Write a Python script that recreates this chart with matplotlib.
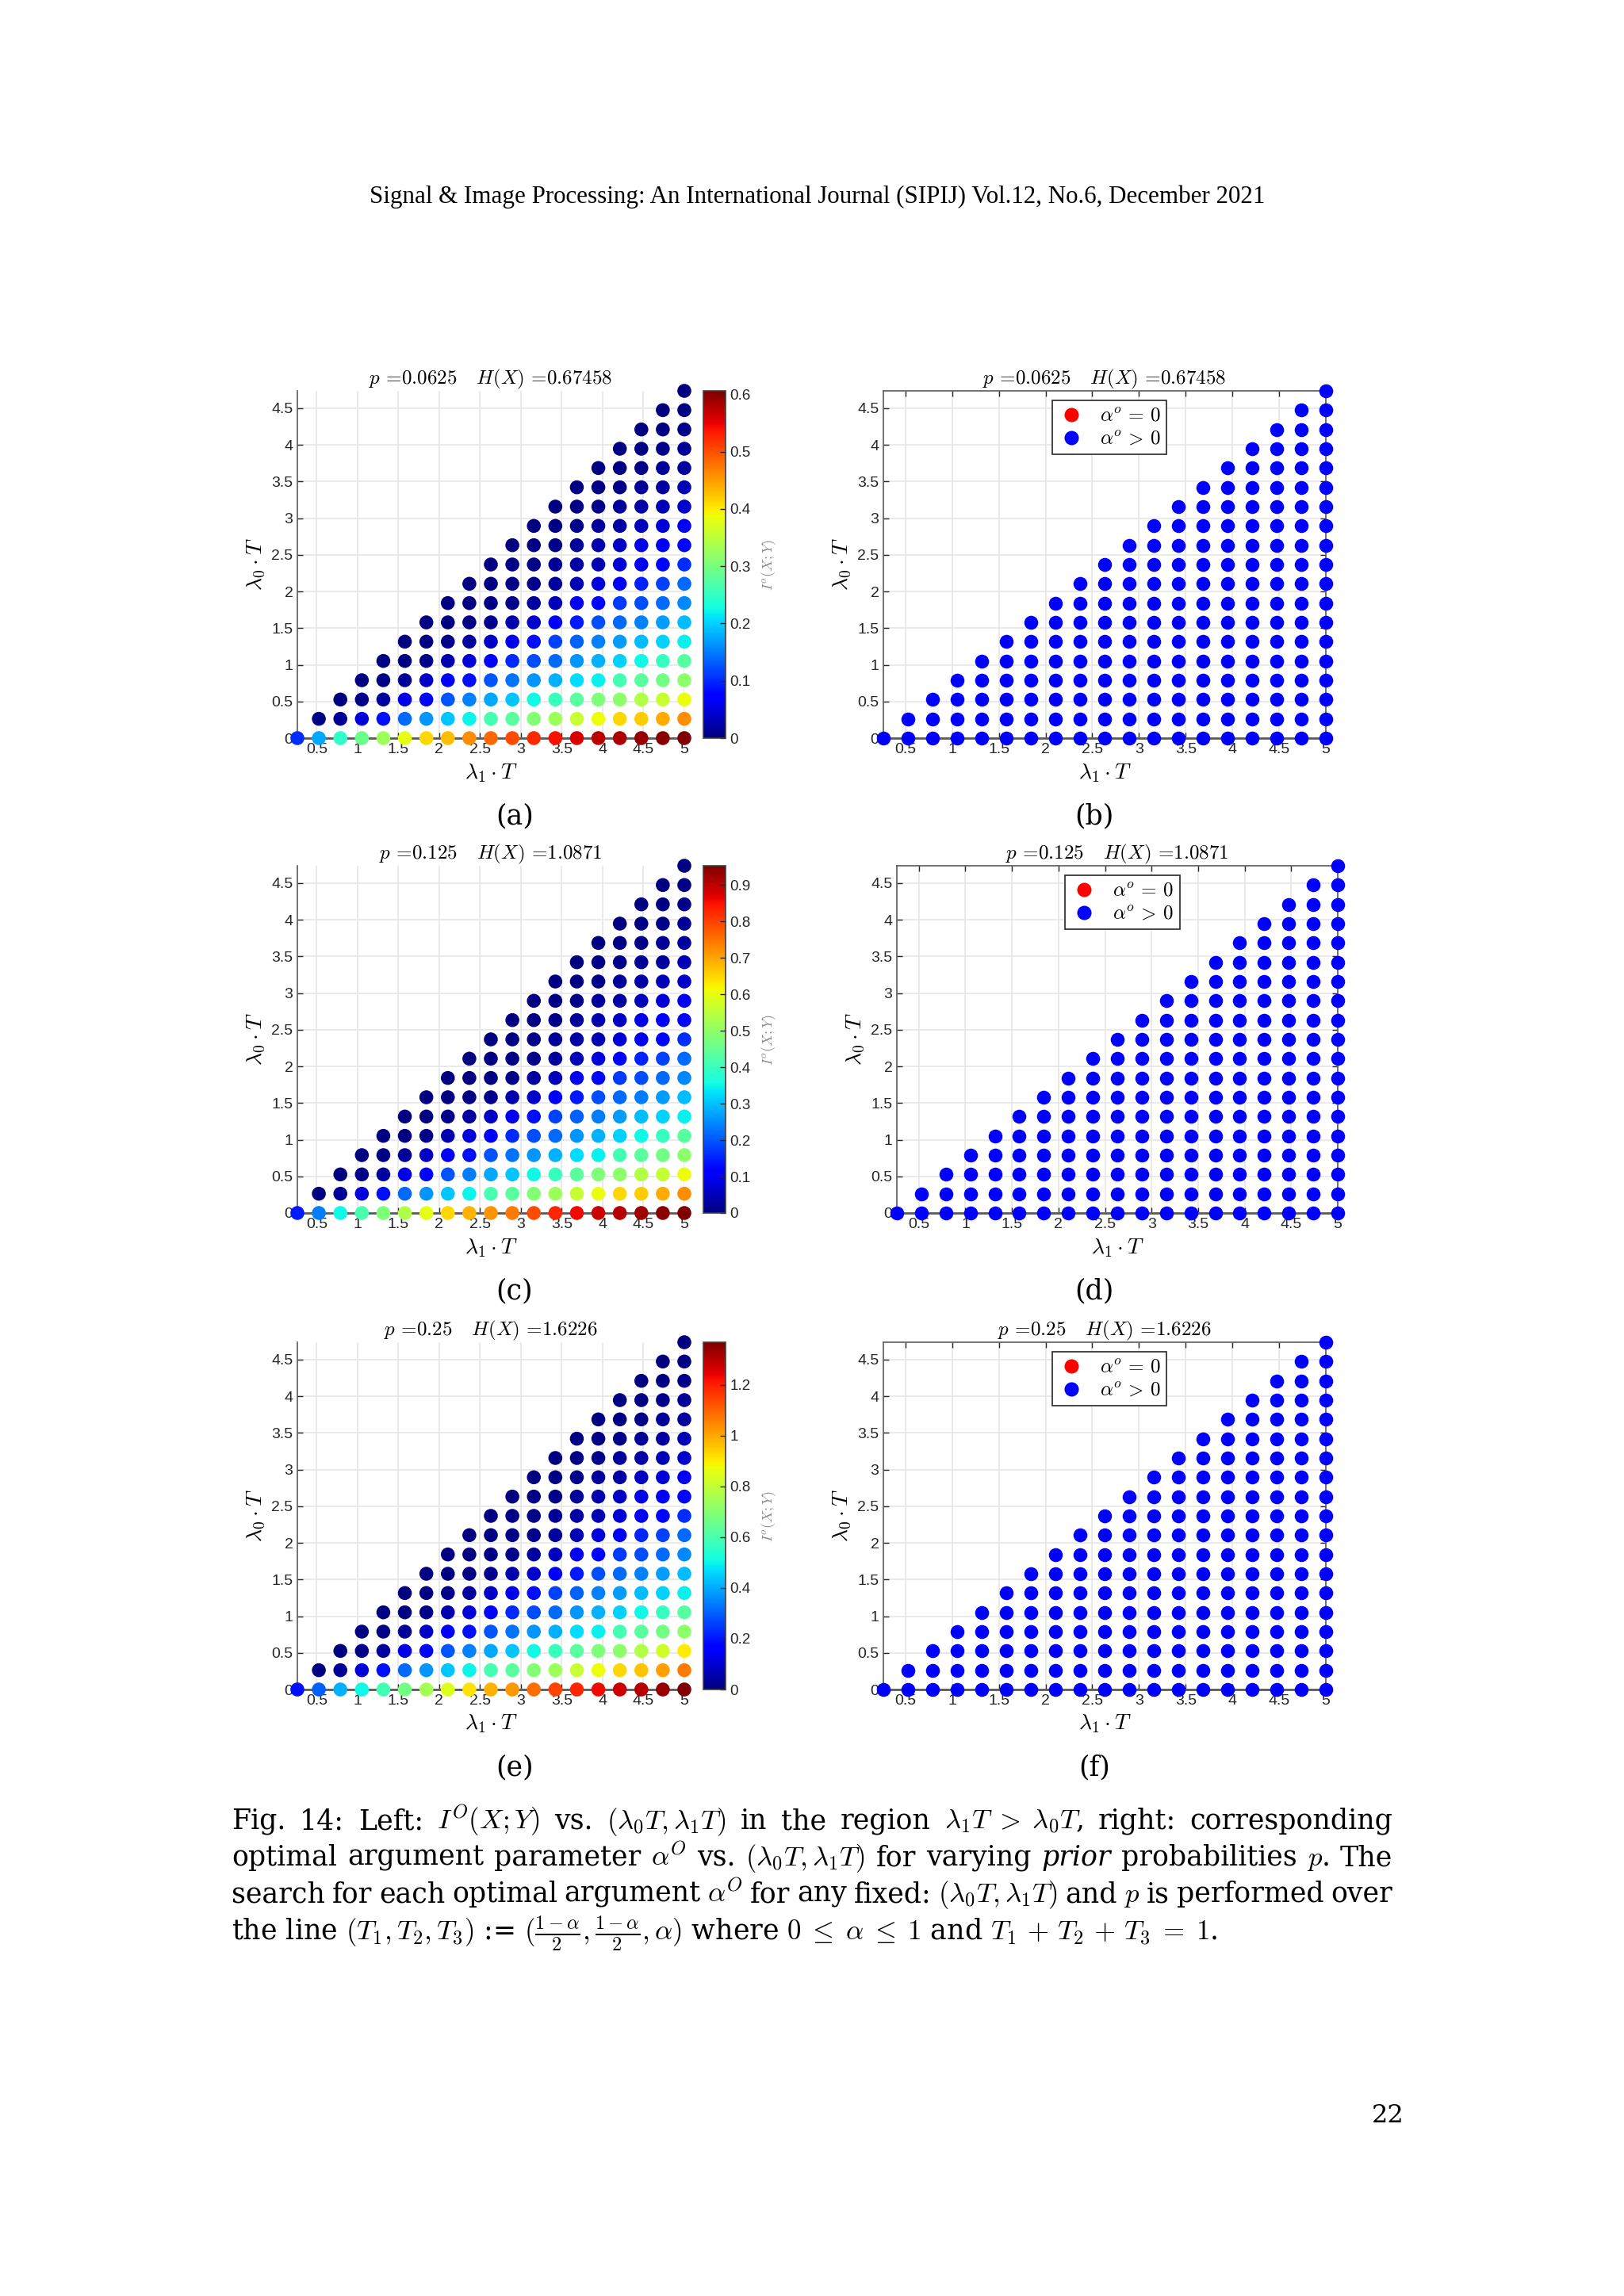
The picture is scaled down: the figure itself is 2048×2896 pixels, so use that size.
import matplotlib
matplotlib.use("Agg")
import matplotlib.pyplot as plt
from matplotlib.lines import Line2D
import numpy as np

plt.rcParams['mathtext.fontset'] = 'cm'
plt.rcParams['axes.unicode_minus'] = False

# grid of lambda*T values (both axes use the same grid, points only where lambda1 > lambda0)
lam = [0, 0.2632, 0.5263, 0.7895, 1.0526, 1.3158, 1.5789, 1.8421, 2.1053, 2.3684,
       2.6316, 2.8947, 3.1579, 3.4211, 3.6842, 3.9474, 4.2105, 4.4737, 4.7368, 5.0]

# I^o(X;Y), row j is lambda0 = lam[j], values for lambda1 = lam[j+1], lam[j+2], ...
I_a = [
    [0.103, 0.176, 0.248, 0.291, 0.327, 0.379, 0.412, 0.430, 0.461, 0.485, 0.503, 0.524, 0.542, 0.558, 0.574, 0.582, 0.593, 0.600, 0.606],
    [0.003, 0.013, 0.048, 0.085, 0.139, 0.164, 0.194, 0.221, 0.264, 0.279, 0.309, 0.327, 0.358, 0.385, 0.412, 0.421, 0.442, 0.461],
    [0.0, 0.006, 0.018, 0.055, 0.079, 0.127, 0.152, 0.176, 0.194, 0.224, 0.255, 0.279, 0.303, 0.315, 0.342, 0.358, 0.385],
    [0.0, 0.003, 0.012, 0.036, 0.067, 0.085, 0.127, 0.145, 0.164, 0.182, 0.206, 0.218, 0.261, 0.279, 0.297, 0.315],
    [0.0, 0.0, 0.006, 0.024, 0.048, 0.076, 0.100, 0.121, 0.139, 0.164, 0.182, 0.200, 0.224, 0.251, 0.276],
    [0.0, 0.0, 0.006, 0.018, 0.036, 0.061, 0.085, 0.115, 0.133, 0.152, 0.170, 0.188, 0.200, 0.218],
    [0.0, 0.0, 0.003, 0.009, 0.024, 0.042, 0.067, 0.091, 0.121, 0.139, 0.152, 0.170, 0.188],
    [0.0, 0.0, 0.003, 0.006, 0.018, 0.033, 0.061, 0.079, 0.109, 0.121, 0.139, 0.158],
    [0.0, 0.0, 0.003, 0.006, 0.015, 0.030, 0.048, 0.073, 0.097, 0.115, 0.139],
    [0.0, 0.003, 0.006, 0.012, 0.021, 0.027, 0.045, 0.061, 0.079, 0.103],
    [0.0, 0.003, 0.006, 0.015, 0.024, 0.036, 0.055, 0.067, 0.079],
    [0.0, 0.003, 0.006, 0.015, 0.021, 0.033, 0.045, 0.061],
    [0.0, 0.003, 0.006, 0.015, 0.021, 0.030, 0.042],
    [0.0, 0.003, 0.006, 0.012, 0.018, 0.030],
    [0.0, 0.003, 0.006, 0.012, 0.018],
    [0.0, 0.003, 0.006, 0.012],
    [0.0, 0.003, 0.006],
    [0.0, 0.003],
    [0.0],
]

I_c = [
    [0.143, 0.238, 0.353, 0.419, 0.477, 0.534, 0.596, 0.648, 0.686, 0.715, 0.743, 0.791, 0.829, 0.858, 0.886, 0.905, 0.924, 0.943, 0.953],
    [0.003, 0.021, 0.076, 0.133, 0.219, 0.257, 0.305, 0.348, 0.415, 0.438, 0.486, 0.515, 0.562, 0.605, 0.648, 0.662, 0.696, 0.724],
    [0.0, 0.010, 0.029, 0.086, 0.124, 0.200, 0.238, 0.276, 0.305, 0.353, 0.400, 0.438, 0.477, 0.496, 0.538, 0.562, 0.605],
    [0.0, 0.005, 0.019, 0.057, 0.105, 0.133, 0.200, 0.229, 0.257, 0.286, 0.324, 0.343, 0.410, 0.438, 0.467, 0.496],
    [0.0, 0.0, 0.010, 0.038, 0.076, 0.119, 0.157, 0.191, 0.219, 0.257, 0.286, 0.314, 0.353, 0.395, 0.434],
    [0.0, 0.0, 0.010, 0.029, 0.057, 0.095, 0.133, 0.181, 0.210, 0.238, 0.267, 0.295, 0.314, 0.343],
    [0.0, 0.0, 0.005, 0.014, 0.038, 0.067, 0.105, 0.143, 0.191, 0.219, 0.238, 0.267, 0.295],
    [0.0, 0.0, 0.005, 0.010, 0.029, 0.052, 0.095, 0.124, 0.172, 0.191, 0.219, 0.248],
    [0.0, 0.0, 0.005, 0.010, 0.024, 0.048, 0.076, 0.114, 0.152, 0.181, 0.219],
    [0.0, 0.005, 0.010, 0.019, 0.033, 0.043, 0.071, 0.095, 0.124, 0.162],
    [0.0, 0.005, 0.010, 0.024, 0.038, 0.057, 0.086, 0.105, 0.124],
    [0.0, 0.005, 0.010, 0.024, 0.033, 0.052, 0.071, 0.095],
    [0.0, 0.005, 0.010, 0.024, 0.033, 0.048, 0.067],
    [0.0, 0.005, 0.010, 0.019, 0.029, 0.048],
    [0.0, 0.005, 0.010, 0.019, 0.029],
    [0.0, 0.005, 0.010, 0.019],
    [0.0, 0.005, 0.010],
    [0.0, 0.005],
    [0.0],
]

I_e = [
    [0.191, 0.301, 0.410, 0.506, 0.588, 0.670, 0.752, 0.848, 0.916, 0.984, 1.025, 1.080, 1.148, 1.189, 1.230, 1.271, 1.299, 1.340, 1.367],
    [0.004, 0.030, 0.109, 0.191, 0.314, 0.369, 0.437, 0.499, 0.595, 0.629, 0.697, 0.738, 0.807, 0.868, 0.930, 0.957, 1.012, 1.066],
    [0.0, 0.014, 0.041, 0.123, 0.178, 0.287, 0.342, 0.396, 0.437, 0.506, 0.574, 0.629, 0.684, 0.711, 0.772, 0.820, 0.902],
    [0.0, 0.007, 0.027, 0.082, 0.150, 0.191, 0.287, 0.328, 0.369, 0.410, 0.465, 0.492, 0.588, 0.629, 0.670, 0.711],
    [0.0, 0.0, 0.014, 0.055, 0.109, 0.171, 0.226, 0.273, 0.314, 0.369, 0.410, 0.451, 0.506, 0.567, 0.622],
    [0.0, 0.0, 0.014, 0.041, 0.082, 0.137, 0.191, 0.260, 0.301, 0.342, 0.383, 0.424, 0.451, 0.492],
    [0.0, 0.0, 0.007, 0.021, 0.055, 0.096, 0.150, 0.205, 0.273, 0.314, 0.342, 0.383, 0.424],
    [0.0, 0.0, 0.007, 0.014, 0.041, 0.075, 0.137, 0.178, 0.246, 0.273, 0.314, 0.355],
    [0.0, 0.0, 0.007, 0.014, 0.034, 0.068, 0.109, 0.164, 0.219, 0.260, 0.314],
    [0.0, 0.007, 0.014, 0.027, 0.048, 0.062, 0.103, 0.137, 0.178, 0.232],
    [0.0, 0.007, 0.014, 0.034, 0.055, 0.082, 0.123, 0.150, 0.178],
    [0.0, 0.007, 0.014, 0.034, 0.048, 0.075, 0.103, 0.137],
    [0.0, 0.007, 0.014, 0.034, 0.048, 0.068, 0.096],
    [0.0, 0.007, 0.014, 0.027, 0.041, 0.068],
    [0.0, 0.007, 0.014, 0.027, 0.041],
    [0.0, 0.007, 0.014, 0.027],
    [0.0, 0.007, 0.014],
    [0.0, 0.007],
    [0.0],
]

titles = [r'$p$ =0.0625   $H(X)$ =0.67458',
          r'$p$ =0.125   $H(X)$ =1.0871',
          r'$p$ =0.25   $H(X)$ =1.6226']
cbar_ticks = [[0, 0.1, 0.2, 0.3, 0.4, 0.5, 0.6],
              [0, 0.1, 0.2, 0.3, 0.4, 0.5, 0.6, 0.7, 0.8, 0.9],
              [0, 0.2, 0.4, 0.6, 0.8, 1, 1.2]]
# optimal alpha: every point of the three right panels has alpha^o > 0
alpha_zero = [[], [], []]
sub_left = ['(a)', '(c)', '(e)']
sub_right = ['(b)', '(d)', '(f)']

W, H = 2048, 2896
fig = plt.figure(figsize=(W / 200, H / 200), dpi=200)

xt = [0.5, 1, 1.5, 2, 2.5, 3, 3.5, 4, 4.5, 5]
yt = [0, 0.5, 1, 1.5, 2, 2.5, 3, 3.5, 4, 4.5]
tick_font = dict(family='Liberation Sans', size=7)
dark = '#262626'


def points(rows):
    xs, ys, vs = [], [], []
    for j, row in enumerate(rows):
        for i, v in enumerate(row):
            xs.append(lam[j + 1 + i])
            ys.append(lam[j])
            vs.append(v)
    return np.array(xs), np.array(ys), np.array(vs)


def style_axes(ax, box):
    ax.set_xlim(lam[1], lam[-1])
    ax.set_ylim(lam[0], lam[-2])
    ax.set_xticks(xt)
    ax.set_yticks(yt)
    ax.set_xticklabels(['%g' % t for t in xt], fontdict=tick_font)
    ax.set_yticklabels(['%g' % t for t in yt], fontdict=tick_font)
    ax.tick_params(direction='in', length=2.5, width=0.5, colors=dark, pad=2,
                   top=box, right=box)
    ax.grid(True, color='#e6e6e6', linewidth=0.6)
    ax.set_axisbelow(True)
    for s in ['left', 'bottom', 'top', 'right']:
        ax.spines[s].set_color('#5a5a5a')
        ax.spines[s].set_linewidth(0.6)
    ax.spines['bottom'].set_linewidth(1.0)
    if not box:
        ax.spines['top'].set_visible(False)
        ax.spines['right'].set_visible(False)
    ax.set_xlabel(r'$\lambda_1\cdot T$', fontsize=10, labelpad=2.5)
    ax.set_ylabel(r'$\lambda_0\cdot T$', fontsize=10, labelpad=2)


data = [I_a, I_c, I_e]
ax_bottoms = [1 - 931 / H, 1 - 1530 / H, 1 - 2131 / H]
ax_h = 438 / H
right_left = [1114 / W, 1131 / W, 1114 / W]
right_w = [558 / W, 556 / W, 558 / W]
sub_y = [1 - 1029 / H, 1 - 1628 / H, 1 - 2229 / H]

for r in range(3):
    xs, ys, vs = points(data[r])
    # left: mutual information
    ax = fig.add_axes([375 / W, ax_bottoms[r], 488 / W, ax_h])
    sc = ax.scatter(xs, ys, c=vs, cmap='jet', vmin=0, vmax=vs.max(), s=40,
                    linewidths=0, clip_on=False, zorder=3)
    style_axes(ax, False)
    ax.set_title(titles[r], fontsize=9, family='cmr10', pad=3)
    cax = fig.add_axes([887 / W, ax_bottoms[r], 28 / W, ax_h])
    cb = fig.colorbar(sc, cax=cax)
    cb.set_ticks(cbar_ticks[r])
    cb.set_ticklabels(['%g' % t for t in cbar_ticks[r]])
    cb.ax.tick_params(direction='in', length=2.5, width=0.5, colors=dark,
                      labelsize=6.8, pad=2)
    for lab in cb.ax.get_yticklabels():
        lab.set_family('Liberation Sans')
    cb.outline.set_linewidth(0.6)
    cb.outline.set_edgecolor('#404040')
    cb.set_label(r'$I^o(X;Y)$', rotation=90, color='#8c8c8c', fontsize=6.5,
                 labelpad=4)

    # right: optimal alpha
    ax2 = fig.add_axes([right_left[r], ax_bottoms[r], right_w[r], ax_h])
    zero = np.zeros(len(xs), dtype=bool)
    for (zx, zy) in alpha_zero[r]:
        zero |= (np.isclose(xs, zx) & np.isclose(ys, zy))
    ax2.scatter(xs[~zero], ys[~zero], color='#0000ff', s=40, linewidths=0,
                clip_on=False, zorder=3)
    ax2.scatter(xs[zero], ys[zero], color='#ff0000', s=40, linewidths=0,
                clip_on=False, zorder=3)
    style_axes(ax2, True)
    ax2.set_title(titles[r], fontsize=9, family='cmr10', pad=3)
    handles = [Line2D([], [], ls='', marker='o', ms=6.5, mfc='#ff0000', mec='none'),
               Line2D([], [], ls='', marker='o', ms=6.5, mfc='#0000ff', mec='none')]
    leg = ax2.legend(handles, [r'$\alpha^o\,=\,0$', r'$\alpha^o\,>\,0$'], loc='upper left',
                     bbox_to_anchor=(0.382, 0.973), borderaxespad=0, fontsize=9,
                     fancybox=False, framealpha=1, edgecolor='#262626',
                     handletextpad=0.8, borderpad=0.3, labelspacing=0.2,
                     handlelength=1.3)
    leg.get_frame().set_linewidth(0.6)

    fig.text(649 / W, sub_y[r], sub_left[r], fontsize=12.5, family='DejaVu Serif',
             ha='center', va='center')
    fig.text(1380 / W, sub_y[r], sub_right[r], fontsize=12.5, family='DejaVu Serif',
             ha='center', va='center')

# page header and number
fig.text(1031 / W, 1 - 256 / H,
         'Signal & Image Processing: An International Journal (SIPIJ) Vol.12, No.6, December 2021',
         fontsize=11.15, family='Liberation Serif', ha='center', va='baseline')
fig.text(1750 / W, 1 - 2677 / H, '22', fontsize=11.5, family='DejaVu Serif',
         ha='center', va='baseline')

# caption, justified line by line
cap_size = 12.5
cap_lines = [
    ['Fig.', '14:', 'Left:', r'$I^O(X;Y)$', 'vs.', r'$(\lambda_0T,\lambda_1T)$', 'in', 'the',
     'region', r'$\lambda_1T\;>\;\lambda_0T$,', 'right:', 'corresponding'],
    ['optimal', 'argument', 'parameter', r'$\alpha^O$', 'vs.', r'$(\lambda_0T,\lambda_1T)$',
     'for', 'varying', '*prior', 'probabilities', r'$p$.', 'The'],
    ['search', 'for', 'each', 'optimal', 'argument', r'$\alpha^O$', 'for', 'any', 'fixed:',
     r'$(\lambda_0T,\lambda_1T)$', 'and', r'$p$', 'is', 'performed', 'over'],
]
last_line = (r'the line $(T_1,T_2,T_3)$ := $(\frac{1-\alpha}{2},\frac{1-\alpha}{2},\alpha)$'
             r' where $0\;\leq\;\alpha\;\leq\;1$ and $T_1\,+\,T_2\,+\,T_3\;=\;1$.')
x0, x1 = 292 / W, 1756 / W
base_y = [1 - 2307 / H, 1 - 2353 / H, 1 - 2399 / H, 1 - 2446 / H]

renderer = fig.canvas.get_renderer()
for li, words in enumerate(cap_lines):
    texts = []
    for wd in words:
        st = 'normal'
        if wd.startswith('*'):
            wd = wd[1:]
            st = 'italic'
        t = fig.text(0, base_y[li], wd, fontsize=cap_size, family='DejaVu Serif',
                     style=st, ha='left', va='baseline')
        texts.append(t)
    widths = [t.get_window_extent(renderer).width / W for t in texts]
    gap = (x1 - x0 - sum(widths)) / (len(texts) - 1)
    pos = x0
    for t, wdt in zip(texts, widths):
        t.set_x(pos)
        pos += wdt + gap
fig.text(x0, base_y[3], last_line, fontsize=cap_size, family='DejaVu Serif',
         ha='left', va='baseline')

fig.savefig('out.png', dpi=200)
